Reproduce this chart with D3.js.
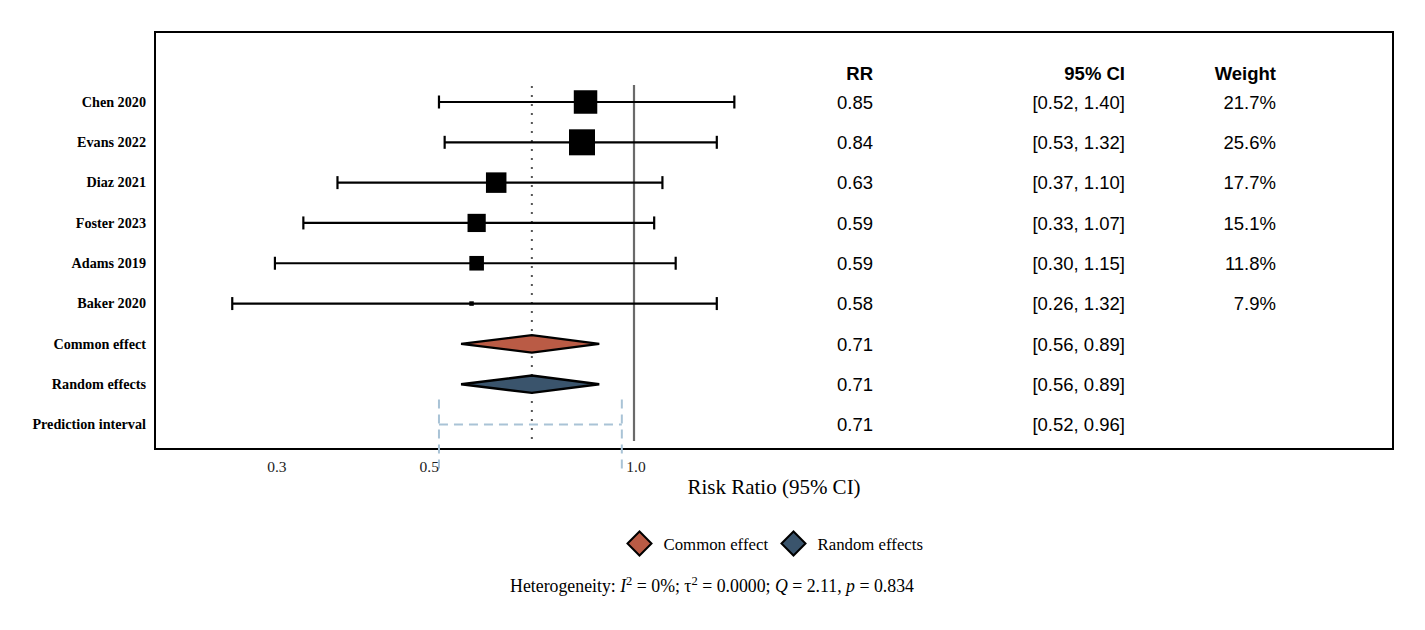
<!DOCTYPE html>
<html>
<head>
<meta charset="utf-8">
<script src="https://cdn.jsdelivr.net/npm/d3@7/dist/d3.min.js"></script>
<style>
  html, body { margin: 0; padding: 0; background: #fff; }
  svg { display: block; }
</style>
</head>
<body>
<svg id="chart" width="1425" height="630"></svg>
<script>
// ---------- data ----------
const studies = ["Chen 2020", "Evans 2022", "Diaz 2021", "Foster 2023", "Adams 2019", "Baker 2020"];
const rr = [0.85, 0.84, 0.63, 0.59, 0.59, 0.58];
const lower = [0.52, 0.53, 0.37, 0.33, 0.30, 0.26];
const upper = [1.40, 1.32, 1.10, 1.07, 1.15, 1.32];
const weights = [21.7, 25.6, 17.7, 15.1, 11.8, 7.9];

const pooledLabels = ["Common effect", "Random effects", "Prediction interval"];
const pooledEst = [0.71, 0.71, 0.71];
const pooledLower = [0.56, 0.56, 0.52];
const pooledUpper = [0.89, 0.89, 0.96];

const tickValues = [0.3, 0.5, 1.0];
const tickLabels = ["0.3", "0.5", "1.0"];
const headers = ["RR", "95% CI", "Weight"];
const legendLabels = ["Common effect", "Random effects"];
const colors = { common: "#BA5B45", random: "#3A546C", pi: "#A9C3D6" };

// ---------- layout ----------
const svg = d3.select("#chart");
const panel = { x0: 155, x1: 1393, y0: 32, y1: 449 };
const x = d3.scaleLog().domain([0.2, 1]).range([154, 634]);
const rowNames = studies.concat(pooledLabels);
const y = d3.scalePoint().domain(rowNames).range([102, 424.5]);
const headerY = 73;
const colX = [873, 1125, 1276];
const fmt2 = d3.format(".2f");

// size of squares (area-like scaling of rescaled weights)
const wRescale = d3.scaleLinear().domain(d3.extent(weights)).range([0, 1]);
const sizeScale = d3.scaleSqrt().domain([0, 1]).range([4.5, 26]);

// panel border
svg.append("rect")
  .attr("x", panel.x0).attr("y", panel.y0)
  .attr("width", panel.x1 - panel.x0).attr("height", panel.y1 - panel.y0)
  .attr("fill", "none").attr("stroke", "#000").attr("stroke-width", 2);

const g = svg.append("g");

// reference line at 1 (no effect)
g.append("line")
  .attr("x1", x(1)).attr("x2", x(1))
  .attr("y1", 85).attr("y2", 441)
  .attr("stroke", "#6a6a6a").attr("stroke-width", 2.2);

// dotted line at random-effects estimate
g.append("line")
  .attr("x1", x(pooledEst[1])).attr("x2", x(pooledEst[1]))
  .attr("y1", 86).attr("y2", 443)
  .attr("stroke", "#555").attr("stroke-width", 2)
  .attr("stroke-dasharray", "2,7");

// prediction interval (dashed)
const piY = y(pooledLabels[2]);
const piG = g.append("g").attr("stroke", colors.pi).attr("stroke-width", 2)
  .attr("stroke-dasharray", "9,6").attr("fill", "none");
piG.append("line")
  .attr("x1", x(pooledLower[2])).attr("x2", x(pooledUpper[2]))
  .attr("y1", piY).attr("y2", piY);
[pooledLower[2], pooledUpper[2]].forEach(v => {
  piG.append("line")
    .attr("x1", x(v)).attr("x2", x(v))
    .attr("y1", piY - 25).attr("y2", piY + 48);
});

// study CIs
const capH = 6.5;
studies.forEach((s, i) => {
  const yy = y(s);
  g.append("line")
    .attr("x1", x(lower[i])).attr("x2", x(upper[i]))
    .attr("y1", yy).attr("y2", yy)
    .attr("stroke", "#000").attr("stroke-width", 2.2);
  [lower[i], upper[i]].forEach(v => {
    g.append("line")
      .attr("x1", x(v)).attr("x2", x(v))
      .attr("y1", yy - capH).attr("y2", yy + capH)
      .attr("stroke", "#000").attr("stroke-width", 2.2);
  });
  const sz = sizeScale(wRescale(weights[i]));
  g.append("rect")
    .attr("x", x(rr[i]) - sz / 2).attr("y", yy - sz / 2)
    .attr("width", sz).attr("height", sz)
    .attr("fill", "#000");
});

// pooled diamonds
[0, 1].forEach(i => {
  const yy = y(pooledLabels[i]);
  const h = 8.7;
  const pts = [
    [x(pooledLower[i]), yy],
    [x(pooledEst[i]), yy - h],
    [x(pooledUpper[i]), yy],
    [x(pooledEst[i]), yy + h]
  ];
  g.append("path")
    .attr("d", d3.line()(pts) + "Z")
    .attr("fill", i === 0 ? colors.common : colors.random)
    .attr("stroke", "#000").attr("stroke-width", 2.4)
    .attr("stroke-linejoin", "miter");
});

// row labels
svg.append("g").selectAll("text").data(rowNames).join("text")
  .attr("x", 146).attr("y", d => y(d) + 4.8)
  .attr("text-anchor", "end")
  .attr("font-family", "'Liberation Serif', 'Times New Roman', serif")
  .attr("font-weight", "bold").attr("font-size", 14.2)
  .text(d => d);

// table
const tableFont = "'Liberation Sans', Arial, sans-serif";
const tg = svg.append("g").attr("font-family", tableFont).attr("font-size", 18.5).attr("fill", "#000");
headers.forEach((h, j) => {
  tg.append("text").attr("x", colX[j]).attr("y", headerY + 6.8)
    .attr("text-anchor", "end").attr("font-weight", "bold").text(h);
});
studies.forEach((s, i) => {
  const yy = y(s) + 6.8;
  tg.append("text").attr("x", colX[0]).attr("y", yy).attr("text-anchor", "end").text(fmt2(rr[i]));
  tg.append("text").attr("x", colX[1]).attr("y", yy).attr("text-anchor", "end")
    .text("[" + fmt2(lower[i]) + ", " + fmt2(upper[i]) + "]");
  tg.append("text").attr("x", colX[2]).attr("y", yy).attr("text-anchor", "end").text(weights[i].toFixed(1) + "%");
});
pooledLabels.forEach((s, i) => {
  const yy = y(s) + 6.8;
  tg.append("text").attr("x", colX[0]).attr("y", yy).attr("text-anchor", "end").text(fmt2(pooledEst[i]));
  tg.append("text").attr("x", colX[1]).attr("y", yy).attr("text-anchor", "end")
    .text("[" + fmt2(pooledLower[i]) + ", " + fmt2(pooledUpper[i]) + "]");
});

// x axis tick labels (no axis line / ticks)
const serif = "'Liberation Serif', 'Times New Roman', serif";
svg.append("g").selectAll("text").data(tickValues).join("text")
  .attr("x", d => x(d) + 2).attr("y", 472)
  .attr("text-anchor", "middle")
  .attr("font-family", serif).attr("font-size", 15.5).attr("fill", "#222")
  .text((d, i) => tickLabels[i]);

// axis title
svg.append("text")
  .attr("x", 774).attr("y", 494)
  .attr("text-anchor", "middle")
  .attr("font-family", serif).attr("font-size", 21)
  .text("Risk Ratio (95% CI)");

// legend
const legX = [639.5, 793.5];
const legY = 543.5;
legendLabels.forEach((l, i) => {
  const r = 12;
  svg.append("path")
    .attr("d", d3.line()([[legX[i] - r, legY], [legX[i], legY - r], [legX[i] + r, legY], [legX[i], legY + r]]) + "Z")
    .attr("fill", i === 0 ? colors.common : colors.random)
    .attr("stroke", "#000").attr("stroke-width", 2);
  svg.append("text")
    .attr("x", legX[i] + 24).attr("y", legY + 6)
    .attr("font-family", serif).attr("font-size", 16.8)
    .text(l);
});

// heterogeneity
const het = svg.append("text")
  .attr("x", 712).attr("y", 592)
  .attr("text-anchor", "middle")
  .attr("font-family", serif).attr("font-size", 17.8);
het.append("tspan").text("Heterogeneity: ");
het.append("tspan").attr("font-style", "italic").text("I");
het.append("tspan").attr("dy", -7.5).attr("font-size", 12.5).text("2");
het.append("tspan").attr("dy", 7.5).text(" = 0%; τ");
het.append("tspan").attr("dy", -7.5).attr("font-size", 12.5).text("2");
het.append("tspan").attr("dy", 7.5).text(" = 0.0000; ");
het.append("tspan").attr("font-style", "italic").text("Q");
het.append("tspan").text(" = 2.11, ");
het.append("tspan").attr("font-style", "italic").text("p");
het.append("tspan").text(" = 0.834");
</script>
</body>
</html>
